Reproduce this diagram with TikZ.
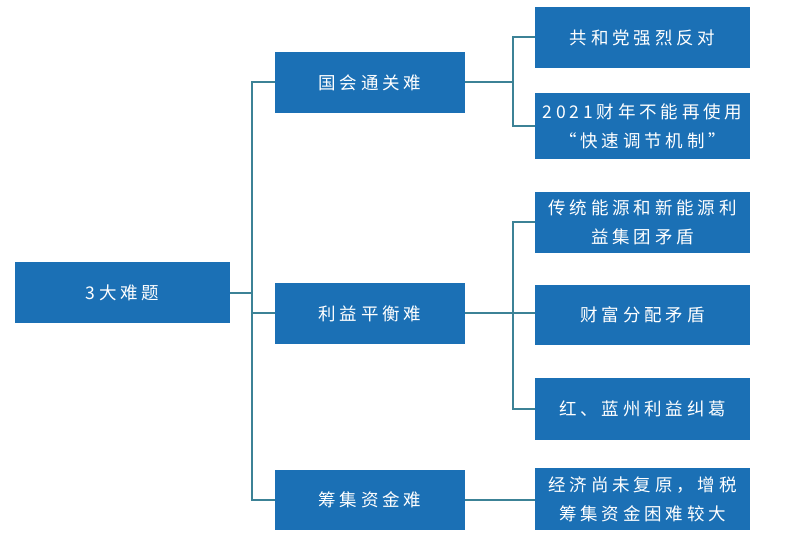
\documentclass[tikz,border=0pt]{standalone}
\usepackage{fontspec}
\setmainfont{Noto Sans CJK SC}[LetterSpace=22]
\definecolor{boxblue}{HTML}{1B70B5}
\definecolor{linec}{HTML}{3C8296}
\begin{document}
\begin{tikzpicture}[x=1pt,y=-1pt,
  bx/.style={fill=boxblue,text=white,draw=none,font=\fontsize{17.5}{29}\selectfont,align=center,inner sep=0pt},
  ln/.style={draw=linec,line width=1.3pt}]
\useasboundingbox (0,0) rectangle (800,540);
\newcommand{\bxat}[6]{\fill[boxblue] (#1,#2) rectangle (#3,#4); \node[bx] (#5) at ({(#1+#3)/2},{(#2+#4)/2}) {#6};}
\bxat{15}{262}{230}{323}{root}{3大难题}
\bxat{275}{52}{465}{113}{m1}{国会通关难}
\bxat{275}{283}{465}{344}{m2}{利益平衡难}
\bxat{275}{470}{465}{530}{m3}{筹集资金难}
\bxat{535}{7}{750}{68}{r1}{共和党强烈反对}
\bxat{535}{93}{750}{159}{r2}{2021财年不能再使用\\“快速调节机制”}
\bxat{535}{192}{750}{253}{r3}{传统能源和新能源利\\益集团矛盾}
\bxat{535}{285}{750}{345}{r4}{财富分配矛盾}
\bxat{535}{378}{750}{440}{r5}{红、蓝州利益纠葛}
\bxat{535}{468}{750}{530}{r6}{经济尚未复原，增税\\筹集资金困难较大}
\coordinate (j0) at (252,293);
\coordinate (j1) at (513,82);
\coordinate (j2) at (513,313);
\draw[ln] (230,293) -- (j0);
\draw[ln] (275,82) -| (252,500) -- (275,500);
\draw[ln] (j0) |- (275,313);
\draw[ln] (465,82) -- (j1);
\draw[ln] (535,37) -| (513,126) -- (535,126);
\draw[ln] (465,313) -- (j2);
\draw[ln] (535,222) -| (513,409) -- (535,409);
\draw[ln] (j2) -- (535,313);
\draw[ln] (465,500) -- (535,500);
\end{tikzpicture}
\end{document}
